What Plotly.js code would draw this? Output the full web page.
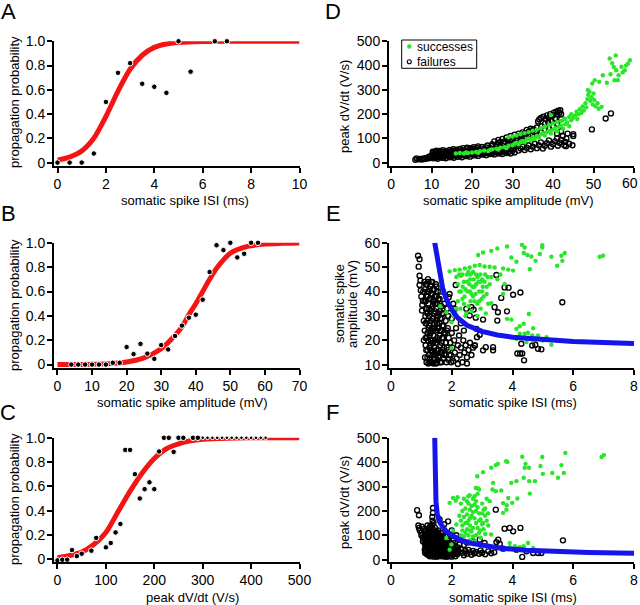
<!DOCTYPE html>
<html><head><meta charset="utf-8">
<script src="https://cdn.plot.ly/plotly-3.0.1.min.js"></script>
<style>html,body{margin:0;padding:0;background:#fff}#chart{width:640px;height:605px}</style>
</head><body><div id="chart"></div>
<script>
// ---------- Panel A ----------
const aIsi  = [0,0.5,1,1.5,2,2.5,3,3.5,4,4.5,5,5.5,6.5,7];
const aProb = [0,0,0,0.075,0.5,0.74,0.82,0.65,0.625,0.575,1,0.75,1,1];
const aFitX = [0,0.5,1,1.5,2,2.5,3,3.5,4,4.5,5,6,7,8,10];
const aFitY = [0.02,0.045,0.095,0.2,0.38,0.59,0.77,0.885,0.95,0.978,0.99,0.998,1,1,1];
// ---------- Panel B ----------
const bAmp  = [4,6,8,10,12,14,16,18,20,22,24,26,28,30,32,34,36,38,40,42,44,46,48,50,52,54,56,58];
const bProb = [0,0,0,0,0,0,0.015,0.015,0.144,0.086,0.17,0.09,0.047,0.16,0.124,0.235,0.32,0.385,0.41,0.533,0.76,0.98,0.94,1,0.88,0.91,1,1];
const bFitX = [0,10,15,20,25,30,33,36,38,40,42,44,46,48,50,55,60,65,70];
const bFitY = [0.0005,0.003,0.008,0.022,0.055,0.13,0.21,0.31,0.41,0.5,0.6,0.7,0.79,0.86,0.915,0.97,0.99,0.996,0.999];
// ---------- Panel C ----------
const cDvdt = [0,10,20,30,40,50,70,80,100,110,120,130,140,150,160,170,180,190,200,210,220,230,240,250,260,280,290,
               300,310,320,330,340,350,360,370,380,390,400,410,420,430];
const cProb = [-0.01,-0.005,-0.005,0.075,0.025,0.045,0.07,0.175,0.097,0.133,0.22,0.29,0.9,0.9,0.7,0.5,0.577,0.633,0.577,0.887,1,1,0.884,1,1,1,1,
               1,1,1,1,1,1,1,1,1,1,1,1,1,1];
const cFitX = [0,25,50,75,100,125,150,175,200,225,250,275,300,350,400,500];
const cFitY = [0.012,0.03,0.058,0.12,0.22,0.39,0.56,0.71,0.83,0.91,0.95,0.975,0.988,0.997,1,1];

// ---------- Panel D: [amplitude mV, peak dV/dt V/s] ----------
const dFail = [[6,12],[6.3,18],[6.8,14],[7.2,16],[7.6,13],[8,18],[8.3,15],[8.7,20],[9,17],[9.3,22],[9.5,26],[9.8,19],
[10,22],[10,28],[10.2,34],[10.4,40],[10.3,45],[10.6,25],[10.8,31],[11,37],[11,44],[11.2,50],[11.4,22],[11.5,28],[11.7,35],[11.8,42],[12,48],[12.1,26],[12.3,32],[12.5,38],[12.6,45],[12.8,52],[13,24],[13.1,30],[13.3,36],[13.5,42],[13.6,48],[13.9,28],[14,34],[14.2,40],[14.4,46],[14.5,53],[14.7,30],[14.9,37],[15,43],[15.2,50],[15.4,56],
[15.6,33],[15.8,40],[16,47],[16.2,54],[16.4,35],[16.6,42],[16.8,50],[17,57],[17.2,38],[17.4,45],[17.6,52],[17.8,60],[18,36],[18.2,43],[18.4,49],[18.6,56],[18.8,62],[19,40],[19.2,47],[19.4,53],[19.6,60],[19.8,45],[20,51],[20.2,58],[20.4,64],[20.6,42],[20.8,48],[21,55],[21.2,61],[21.5,67],[21.7,46],[22,52],[22.2,59],[22.5,65],
[22.8,40],[23,48],[23.2,56],[23.5,63],[23.8,71],[24,45],[24.2,53],[24.5,60],[24.8,68],[25,76],[25.2,42],[25.5,50],[25.8,58],[26,66],[26.2,74],[26.5,82],[26.8,47],[27,55],[27.3,63],[27.5,71],[27.8,80],[28,88],[28.2,45],[28.5,52],[28.8,60],[29,68],[29.2,77],[29.5,86],[29.8,95],[30,48],[30.2,56],[30.4,64],[30.6,72],[30.8,82],[31,92],[31.2,100],
[31.5,108],[32,104],[32.3,112],[32.8,118],[33.2,110],[33.5,122],[34,128],[34.3,116],[34.8,132],[35.2,138],[35.5,126],[36,145],[36.3,170],[36.6,178],[37,184],[37.2,150],[37.6,190],[38,160],[38.2,180],[38.5,195],[38.8,168],[39,186],[39.3,200],[39.6,175],[40,195],[40.2,206],[40.5,182],[40.8,210],[41,200],[41.3,214],[41.6,206],[41.8,216],
[31.5,50],[32,58],[32.5,66],[33,52],[33.5,62],[34,72],[34.5,55],[35,66],[35.5,78],[36,60],[36.5,72],[37,84],[37.5,58],[38,70],[38.5,80],[39,92],[39.5,66],[40,76],[40.5,88],[41,100],[41.2,70],[41.6,82],[42,94],[42.4,110],[42.8,72],[43,86],[43.3,100],[43.6,120],[42,130],[41,120],
[43.2,68],[44.8,72],[45,110],[45,118],[49.6,137],[53,182],[54.3,203],[44,78],
[10.5,18],[11.5,16],[12.5,20],[13.5,18],[14.5,22],[15.5,20],[16.5,24],[17.5,22],[18.5,27],[19.5,25],[20.5,30],[21.5,28],[22.5,33],[23.5,31],[24.5,36],[25.5,34],[26.5,38],[27.5,36],[28.5,40],[29.5,38],[30.5,42],
[11,20],[13,21],[15,25],[17,28],[19,31],[21,34],[23,37],[25,40],[27,42],[29,44],[16,30],[18,33],[20,36],[22,38],[24,40],[26,44],[28,48],
[25.5,88],[26.5,94],[27.5,98],[28.5,104],[29.5,110],[30.5,115],[31.5,120],[32.5,125],[33.5,135],[34.5,140],[27,85],[29,92],[31,98],[33,104],[35,115],[37,125],[39,140],[40,150],[41,160],[42,180],[42,200],[38,135],[36,125]];
const dSucc = [[16,38],[17,40],[18,38],[18.5,42],[19,40],[20,42],[21,44],[21.5,41],[22,47],[23,50],[24,48],[24.5,53],[25,55],[26,58],[26.5,54],[27,62],[28,64],[28.5,60],[29,70],[30,72],[30.5,78],[31,82],[31.5,76],[32,86],[32.5,90],[33,84],[33.5,96],[34,100],[34.5,92],[35,105],[35.5,98],[36,110],[36.5,104],[37,116],[37.5,122],[38,112],[38.5,126],[39,132],[39.5,120],[40,136],[40.5,142],[41,130],[41.5,148],[42,152],[42.5,140],[43,158],[43.5,165],[44,150],
[29,105],[30,108],[31,112],[32,118],[33,122],[34,126],[35,132],[36,136],[37,142],[38,148],[39,155],[40,162],[41,168],[42,172],[43,180],[44,188],[39.5,196],[42.8,182],[44.5,200],
[44.5,175],[45,185],[45.5,195],[45.8,210],[46,180],[46.3,200],[46.6,220],[47,205],[47.3,232],[47.6,215],[48,245],[48.2,228],[48.5,262],[48.7,280],[49,292],[49.2,255],[49.5,270],[49.8,240],[50,285],[50.2,258],[50.5,232],[51,245],[51.3,222],[52,230],[48.6,299],[49.7,326],[50.3,340],
[51.4,333],[52.3,360],[53.3,329],[54,429],[54.2,364],[55,394],[55.2,340],[55.5,442],[55.6,381],[56,340],[56.2,360],[56.9,395],[57.7,381],[58.5,408],[59,422],[54.6,410],[57.2,372],[58,400]];

// ---------- Panel E: [ISI ms, amplitude mV] ----------
const eFail = [[0.89,54.7],[0.94,53.3],[0.91,50.2],[0.94,46.5],[0.97,44.5],[0.94,42.7],[1.0,38],[1.05,36.3],[1.02,32.2],[1.22,45.1],[0.98,40.5],[1.03,34.5],
[1.12,41],[1.10,36],[1.13,30],[1.11,24],[1.14,18],[1.12,13],
[1.18,43],[1.17,38],[1.19,33],[1.16,27],[1.18,21],[1.2,16],[1.17,11],
[1.24,44],[1.25,40],[1.23,35],[1.26,30],[1.24,25],[1.22,20],[1.25,14],[1.23,10.5],
[1.3,42],[1.31,37],[1.29,32],[1.32,28],[1.3,23],[1.31,18],[1.29,12.5],
[1.36,44],[1.35,39],[1.37,34],[1.36,29],[1.35,25],[1.37,20],[1.36,15],[1.35,11],
[1.42,41],[1.41,36],[1.43,31],[1.42,27],[1.4,22],[1.43,17],[1.41,12.5],
[1.48,43],[1.47,38],[1.49,33],[1.48,28],[1.46,24],[1.49,19],[1.47,14],[1.48,10.5],
[1.54,40],[1.53,35],[1.55,30],[1.54,25],[1.52,21],[1.55,16],[1.53,12],
[1.6,37],[1.61,32],[1.59,27],[1.6,22],[1.62,18],[1.6,13.5],
[1.66,34],[1.67,29],[1.65,24],[1.66,19],[1.68,15],[1.66,11],
[1.72,31],[1.73,26],[1.71,21],[1.74,17],[1.72,12.5],
[1.8,28],[1.79,23],[1.81,19],[1.8,14.5],[1.82,11],
[1.88,30],[1.87,25],[1.9,21],[1.88,16],[1.89,12],
[1.95,19],[1.97,14],[2.0,23],[2.02,17],[2.05,11.5],[2.08,20],[2.1,15],[2.14,25],[2.16,12.5],[2.2,18],[2.24,22],[2.26,14],[2.3,17],[2.35,11],[2.38,20],[2.42,15],[2.46,18],[2.5,13],[2.55,16],[2.6,19],[2.65,14],[2.7,17],[2.76,17.9],[2.83,21.3],[2.92,22.3],[2.5,10.5],[2.2,10.3],
[1.15,33],[1.21,38],[1.27,22],[1.33,16],[1.39,29],[1.45,35],[1.51,27],[1.57,20],[1.63,40],[1.69,26],[1.75,35],[1.85,33],[1.2,28],[1.27,41],[1.33,33],[1.39,14],[1.45,20],[1.51,38],[1.57,31],[1.63,15],
[1.15,43],[1.2,40],[1.26,37],[1.32,44],[1.38,41],[1.44,38],[1.5,42],[1.14,36],[1.2,31],[1.26,33],[1.32,39],[1.38,36],[1.44,32],[1.5,35],[1.56,37],[1.62,29],[1.68,31],[1.14,27],[1.2,23],[1.26,26],[1.32,24],[1.38,19],[1.44,25],[1.5,30],[1.56,25],[1.62,24],[1.68,21],[1.74,23],[1.14,21],[1.2,13],[1.26,17],[1.32,20],[1.38,24],[1.44,15],[1.5,16],[1.56,13],[1.62,11],[1.7,16],[1.76,14],[1.84,17],[1.84,24],[1.92,14],[1.98,11],[1.28,11],[1.4,10.5],[1.52,10.8],[1.16,16],[1.08,20],[1.08,28],[1.06,40],[1.1,44],
[1.93,39],[1.9,37.7],[2.13,42.7],[2.1,32.9],[2.0,29],[2.05,35],[2.48,32.9],[2.59,30.2],[2.65,33.6],[2.72,32.6],[2.79,29.3],[2.81,24.7],[3.03,28.5],[3.03,15.9],[3.12,17.2],[3.36,15.9],[3.36,17.2],[3.5,28.1],[3.52,31.5],[3.41,33.6],[3.47,46.8],[3.63,37.4],[3.82,31.9],[3.87,41.6],[3.74,41.7],[4.02,38.7],[4.26,39.6],[4.16,14.6],[4.25,14.6],[4.32,14.6],[4.38,11.8],[4.29,18.6],[4.65,17.9],[4.75,18.2],[4.84,16.5],[4.95,16.3],[5.64,35.6],[2.76,17.9],[2.3,27],[2.4,24]];
const eSucc = [[1.93,48.3],[2.1,48.8],[2.26,49],[2.43,49.5],[2.59,49.9],[2.76,50.6],[2.92,50.9],[3.08,50.3],[3.25,50.2],[3.41,49.9],[3.69,49.5],[3.86,49],[4.02,48.6],
[2.87,55],[3.03,56],[3.3,56.7],[3.5,57.7],[3.82,58.5],[3.96,54],[4.13,52.2],[4.31,59.2],[4.4,58.1],[4.37,55.8],[4.49,55],[4.62,54.4],[4.57,49.2],[4.76,52.6],[4.9,55.4],[4.98,58.1],[4.98,59],[5.28,54.3],[5.47,50.6],[5.61,54.7],[5.72,55.8],[5.64,52.6],[6.87,54.3],[6.98,54.7],
[2.15,46],[2.2,43],[2.25,40],[2.3,46.5],[2.35,37],[2.4,44],[2.45,41],[2.5,47],[2.55,34],[2.6,45],[2.65,39],[2.7,48],[2.75,36],[2.8,43],[2.85,46],[2.9,40],[2.95,33],[3.0,45],[3.05,38],[3.1,47],[3.15,42],[3.2,35],[2.2,36],[2.28,33],[2.36,42],[2.42,38],[2.48,31],[2.52,40],[2.58,43],[2.62,36],[2.68,42],[2.72,45],[2.78,39],[2.84,35],[2.88,44],[2.94,47],[2.98,37],[3.02,42],[3.08,44],[3.12,31],[3.18,46],[3.25,43],[2.3,40],[2.5,44],[2.7,38],[2.9,36],[2.4,35],[2.6,40],[2.8,47],[3.0,40],[2.45,30],[2.65,32],[2.85,30],[2.35,47],[2.55,48],[2.75,42],[2.95,44],[3.15,39],[2.25,47],[2.62,47],
[1.62,34],[1.99,27.4],[1.99,16.8],[1.82,31.5],[2.05,30],[2.15,33],
[3.3,35.2],[3.74,43.1],[3.69,39],[3.82,28.8],[3.96,28.5],[4.13,24.7],[4.24,25.8],[4.37,26.8],[4.54,30.8],[4.68,25],[4.24,22.7],[4.4,22.7],[4.51,23.1],[4.65,22],[4.76,20.9],[4.84,22],[5.0,19.9],[5.12,21.3],[5.28,18.2],[4.13,20.6],[4.46,19.3],[4.68,19.9],[3.5,45],[3.6,47],[3.3,46],[4.3,21]];
const eFitX = [1.44,1.5,1.6,1.7,1.8,2.0,2.2,2.5,3.0,3.5,4,5,6,7,8];
const eFitY = [60,55,47,41.5,37.5,32.5,29.2,26.2,23.7,22.2,21.3,20.2,19.5,19.1,18.7];

// ---------- Panel F: [ISI ms, peak dV/dt V/s] ----------
const fFail = [[0.86,203],[0.92,182],[0.9,140],[0.92,130],[0.95,120],[1.0,110],[1.0,100],[1.05,90],[1.02,135],[1.08,125],
[1.38,192],[1.38,212],[1.36,175],[1.37,160],[1.88,157],[1.6,165],[1.75,145],
[1.1,115],[1.11,100],[1.12,85],[1.1,70],[1.13,55],[1.11,40],[1.12,28],
[1.16,122],[1.17,108],[1.15,93],[1.18,78],[1.16,63],[1.17,48],[1.15,34],[1.18,22],
[1.22,118],[1.23,104],[1.21,90],[1.24,74],[1.22,60],[1.23,45],[1.21,30],[1.24,18],
[1.28,125],[1.29,110],[1.27,96],[1.3,82],[1.28,67],[1.29,52],[1.27,38],[1.3,24],[1.28,14],
[1.34,130],[1.35,115],[1.33,100],[1.36,86],[1.34,72],[1.35,57],[1.33,43],[1.36,29],[1.34,17],
[1.4,122],[1.41,108],[1.39,93],[1.42,78],[1.4,64],[1.41,49],[1.39,35],[1.42,22],[1.4,12],
[1.46,112],[1.47,98],[1.45,84],[1.48,70],[1.46,55],[1.47,41],[1.45,27],[1.48,15],
[1.52,104],[1.53,90],[1.51,76],[1.54,62],[1.52,48],[1.53,34],[1.51,20],
[1.58,96],[1.59,82],[1.57,68],[1.6,54],[1.58,40],[1.59,26],[1.57,14],
[1.64,110],[1.65,88],[1.63,74],[1.66,60],[1.64,46],[1.65,32],[1.63,18],
[1.7,95],[1.71,80],[1.69,66],[1.72,52],[1.7,38],[1.71,24],[1.69,13],
[1.78,86],[1.79,72],[1.77,58],[1.8,44],[1.78,30],[1.79,18],
[1.86,100],[1.87,78],[1.85,64],[1.88,50],[1.86,36],[1.87,22],[1.85,12],
[1.94,70],[1.95,56],[1.93,42],[1.96,28],[1.94,16],
[2.02,62],[2.03,48],[2.01,34],[2.04,20],
[2.1,55],[2.11,40],[2.09,26],[2.12,14],
[2.2,50],[2.22,36],[2.18,22],
[2.3,42],[2.35,28],[2.4,18],[2.45,35],[2.5,24],[2.55,40],[2.6,30],[2.65,20],[2.7,36],[2.75,26],[2.8,32],[2.9,24],[2.95,38],[3.0,28],[3.1,22],[3.2,34],[3.3,26],[3.4,30],
[1.2,97],[1.26,58],[1.32,35],[1.38,70],[1.44,100],[1.5,40],[1.56,60],[1.62,38],[1.68,85],[1.74,66],[1.82,40],[1.9,85],[1.14,72],[1.3,140],[1.45,130],[1.55,120],
[1.15,105],[1.2,80],[1.25,112],[1.3,95],[1.35,78],[1.4,55],[1.45,45],[1.5,85],[1.55,70],[1.6,100],[1.65,50],[1.7,110],[1.75,80],[1.8,60],[1.85,28],[1.9,45],[1.2,40],[1.25,25],[1.3,60],[1.35,45],[1.4,30],[1.45,65],[1.5,28],[1.55,48],[1.6,20],[1.65,70],[1.7,45],[1.75,25],[1.8,95],[1.9,30],[1.98,50],[2.05,38],[2.1,70],[2.2,30],[2.25,62],[1.25,130],[1.35,140],[1.2,140],[1.4,150],[1.5,115],[1.15,50],[1.1,90],[1.05,75],[1.95,95],[2.05,80],[1.3,20],[1.5,12],[1.65,22],[1.8,12],[2.0,12],
[3.45,205],[3.74,127],[3.91,130],[4.02,116],[4.26,130],[5.66,79],[4.32,11],[2.26,89],[2.7,75],[2.92,82],[3.08,68],[3.47,72],[3.53,82],[3.58,64],[3.69,45],[4.13,41],[4.46,34],[4.68,27],[4.84,27],[4.95,27],[2.4,60],[2.5,70],[2.15,100],[2.0,120]];
const fSucc = [[1.93,233],[2.04,253],[2.13,242],[2.19,256],[2.54,260],[2.59,264],[2.79,294],[2.87,292],[2.9,288],[2.84,342],[3.03,359],[3.3,377],[3.45,388],[3.52,393],[3.83,401],[3.79,404],[4.32,422],[4.43,393],[4.4,377],[4.54,377],[4.98,421],[4.92,384],[5.0,352],[5.31,356],[5.5,336],[5.61,388],[5.69,356],[5.74,438],[6.93,421],[7.01,429],[4.37,336],[4.55,322],[4.74,322],[4.57,271],[4.13,322],[3.96,315],[4.16,251],[3.99,233],[3.81,223],[3.63,284],[3.69,232],[3.86,253],[3.36,315],[3.34,288],[3.45,281],[3.69,192],[3.8,205],[3.3,103],[3.03,151],
[3.91,68],[4.08,55],[4.24,51],[4.37,55],[4.51,68],[4.68,48],[3.91,51],[1.93,41],[1.99,62],[2.15,144],[2.04,119],[1.82,89],
[2.3,230],[2.35,200],[2.4,175],[2.45,150],[2.5,125],[2.55,100],[2.6,80],[2.3,160],[2.35,120],[2.4,95],[2.45,210],[2.5,185],[2.55,160],[2.6,140],[2.65,115],[2.7,95],[2.75,75],[2.65,220],[2.7,195],[2.75,170],[2.8,150],[2.85,130],[2.9,110],[2.95,90],[2.8,240],[2.85,215],[2.9,190],[2.95,165],[3.0,145],[3.05,125],[3.1,105],[3.0,230],[3.05,205],[3.1,180],[3.15,160],[3.2,140],[2.4,250],[2.5,240],[2.6,205],[2.7,250],[2.75,260],[2.55,230],[2.45,110],[2.6,170],[2.7,130],[2.8,200],[2.9,160],[3.0,190],[3.1,210],[2.35,140],[2.5,150],[2.65,180],[2.8,100],[2.95,120],[3.15,250],[2.85,270],[2.6,120],[2.75,225],[3.25,240],[3.2,190],[2.25,180],[2.3,100]];
const fFitX = [1.44,1.45,1.46,1.48,1.52,1.6,1.7,1.82,2.0,2.26,2.6,3.14,3.6,4.46,5.5,6.5,8];
const fFitY = [500,400,300,240,190,155,135,116,100,82,68,55,47,38,32,29,26];

// ---------- tick labels ----------
const probTicks = [0,0.2,0.4,0.6,0.8,1.0];
const probLabels = ['0','0.2','0.4','0.6','0.8','1.0'];
const dAmpTicks = [0,10,20,30,40,50,60];
const dAmpLabels = ['0','10','20','30','40','50',''];   // "60" is drawn as a text below so that it stays inside the page

const FONT = '"Liberation Sans", Arial, Helvetica, sans-serif';
const RED = 'rgb(245,20,20)', BLUE = 'rgb(20,20,235)', GREEN = 'rgb(40,230,40)';
const X = a => a.map(p => p[0]), Y = a => a.map(p => p[1]);

function fit(x, y, xa, ya, color, shape) {
  return {x, y, xaxis: xa, yaxis: ya, type: 'scatter', mode: 'lines', showlegend: false, hoverinfo: 'skip',
          line: {color, width: 5, shape: shape || 'spline', smoothing: 0.8}};
}
function dots(x, y, xa, ya) {
  return {x, y, xaxis: xa, yaxis: ya, type: 'scatter', mode: 'markers', showlegend: false, cliponaxis: false,
          marker: {color: 'black', opacity: 1, sizemode: 'diameter',
                   size: x.map(v => (xa === 'x3' && v >= 300) ? 3.6 : 5.5)}};
}
function fails(a, xa, ya) {
  return {x: X(a), y: Y(a), xaxis: xa, yaxis: ya, type: 'scatter', mode: 'markers', name: 'failures', showlegend: false,
          marker: {symbol: 'circle-open', color: 'black', size: 5, opacity: 1, line: {width: 1.35, color: 'black'}}};
}
function succ(a, xa, ya) {
  return {x: X(a), y: Y(a), xaxis: xa, yaxis: ya, type: 'scatter', mode: 'markers', name: 'successes', showlegend: false,
          marker: {color: GREEN, size: 4.4, opacity: 1}};
}

const data = [
  fit(aFitX, aFitY, 'x', 'y', RED), dots(aIsi, aProb, 'x', 'y'),
  fit(bFitX, bFitY, 'x2', 'y2', RED), dots(bAmp, bProb, 'x2', 'y2'),
  fit(cFitX, cFitY, 'x3', 'y3', RED), dots(cDvdt, cProb, 'x3', 'y3'),
  fails(dFail, 'x4', 'y4'), succ(dSucc, 'x4', 'y4'),
  fails(eFail, 'x5', 'y5'), succ(eSucc, 'x5', 'y5'), fit(eFitX, eFitY, 'x5', 'y5', BLUE, 'linear'),
  fails(fFail, 'x6', 'y6'), succ(fSucc, 'x6', 'y6'), fit(fFitX, fFitY, 'x6', 'y6', BLUE, 'linear')
];

const W = 640, H = 605;
function ax(domain, range, extra) {
  return Object.assign({domain, range, showline: true, linewidth: 2, linecolor: 'black', mirror: false,
    ticks: 'outside', ticklen: 5, tickwidth: 2, tickcolor: 'black', showgrid: false, zeroline: false,
    automargin: false, ticklabelstandoff: -1,
    tickfont: {family: FONT, size: 14, color: 'black'}, fixedrange: true, tickmode: 'array'}, extra);
}
const xL = [54/W, 299.5/W], xR = [389/W, 634/W];
const yR1 = [1-166/H, 1-41.3/H], yR2 = [1-368/H, 1-242.8/H], yR3 = [1-562.3/H, 1-437.8/H];

const layout = {
  width: W, height: H, margin: {l: 0, r: 0, t: 0, b: 0}, paper_bgcolor: 'white', plot_bgcolor: 'white',
  font: {family: FONT, color: 'black'}, showlegend: false,
  xaxis:  ax(xL, [-0.145, 10], {anchor: 'y', tickvals: [0,2,4,6,8,10]}),
  yaxis:  ax(yR1, [-0.028, 1], {anchor: 'x', tickvals: probTicks, ticktext: probLabels}),
  xaxis2: ax(xL, [-1.01, 70], {anchor: 'y2', tickvals: [0,10,20,30,40,50,60,70]}),
  yaxis2: ax(yR2, [-0.028, 1], {anchor: 'x2', tickvals: probTicks, ticktext: probLabels}),
  xaxis3: ax(xL, [-7.2, 500], {anchor: 'y3', tickvals: [0,100,200,300,400,500]}),
  yaxis3: ax(yR3, [-0.026, 1], {anchor: 'x3', tickvals: probTicks, ticktext: probLabels}),
  xaxis4: ax(xR, [-0.5, 60], {anchor: 'y4', tickvals: dAmpTicks, ticktext: dAmpLabels}),
  yaxis4: ax(yR1, [-13.6, 500], {anchor: 'x4', tickvals: [0,100,200,300,400,500]}),
  xaxis5: ax(xR, [-0.066, 8], {anchor: 'y5', tickvals: [0,2,4,6,8]}),
  yaxis5: ax(yR2, [8.65, 60], {anchor: 'x5', tickvals: [10,20,30,40,50,60]}),
  xaxis6: ax(xR, [-0.066, 8], {anchor: 'y6', tickvals: [0,2,4,6,8]}),
  yaxis6: ax(yR3, [-11, 500], {anchor: 'x6', tickvals: [0,100,200,300,400,500]}),
  annotations: [], shapes: []
};

function ann(text, px, py, size, angle, xanchor) {
  layout.annotations.push({text, x: px/W, y: 1-py/H, xref: 'paper', yref: 'paper', showarrow: false,
    xanchor: xanchor || 'center', yanchor: 'middle', textangle: angle || 0,
    font: {family: FONT, size, color: 'black'}});
}
// panel letters
ann('A', 8, 11, 22); ann('B', 8, 213, 22); ann('C', 8, 412, 22);
ann('D', 333, 12, 22); ann('E', 333, 213, 22); ann('F', 332, 412, 22);
// last tick label of D, shifted left to stay on the page
ann('60', 629.5, 182.5, 14);
// x titles
ann('somatic spike ISI (ms)', 185, 200, 13);
ann('somatic spike amplitude (mV)', 182, 402, 13);
ann('peak dV/dt (V/s)', 192, 597.5, 13);
ann('somatic spike amplitude (mV)', 508, 200, 13);
ann('somatic spike ISI (ms)', 513, 402, 13);
ann('somatic spike ISI (ms)', 513, 597.5, 13);
// y titles
ann('propagation probability', 14, 102, 13, -90);
ann('propagation probability', 14, 305, 13, -90);
ann('propagation probability', 14, 499, 13, -90);
ann('peak dV/dt (V/s)', 344, 107, 13, -90);
ann('somatic spike', 339, 304, 13, -90);
ann('amplitude (mV)', 352, 304, 13, -90);
ann('peak dV/dt (V/s)', 344, 503, 13, -90);
// legend for D
layout.shapes.push({type: 'rect', xref: 'paper', yref: 'paper', x0: 401.7/W, x1: 476.7/W, y0: 1-68.3/H, y1: 1-40/H,
  line: {color: 'black', width: 1}, fillcolor: 'white', layer: 'below'});
layout.shapes.push({type: 'circle', xref: 'paper', yref: 'paper', xsizemode: 'pixel', ysizemode: 'pixel',
  xanchor: 409.3/W, yanchor: 1-46.5/H, x0: -2.2, x1: 2.2, y0: -2.2, y1: 2.2, fillcolor: GREEN, line: {width: 0}});
layout.shapes.push({type: 'circle', xref: 'paper', yref: 'paper', xsizemode: 'pixel', ysizemode: 'pixel',
  xanchor: 409.3/W, yanchor: 1-61.7/H, x0: -2, x1: 2, y0: -2, y1: 2, line: {color: 'black', width: 1.1}});
ann('successes', 414.5, 46.5, 12, 0, 'left');
ann('failures', 414.5, 62, 12, 0, 'left');

Plotly.newPlot('chart', data, layout, {staticPlot: true, displayModeBar: false});
</script>
</body></html>
